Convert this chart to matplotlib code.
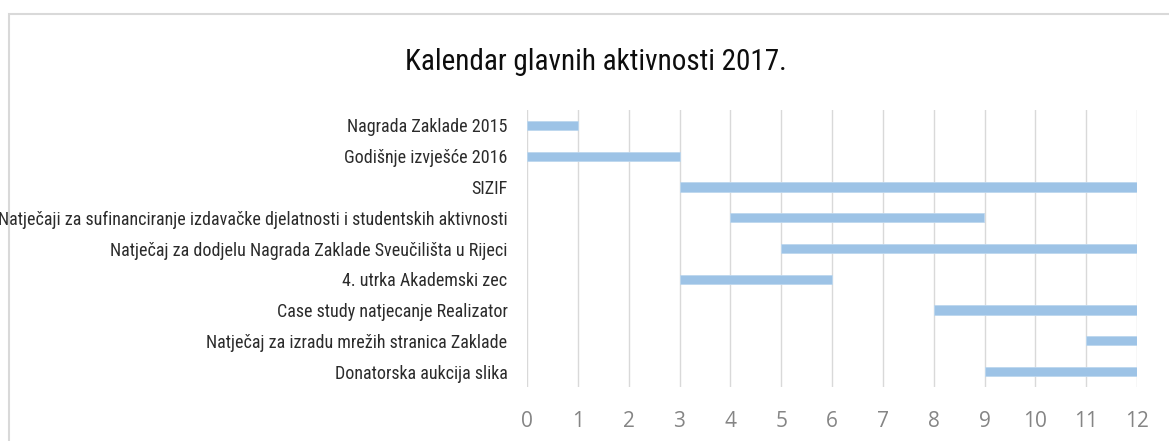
import matplotlib
matplotlib.use('Agg')
import matplotlib.pyplot as plt
from matplotlib.patches import Rectangle

# activities (top to bottom), start and end month
activities = [
    "Nagrada Zaklade 2015",
    "Godišnje izvješće 2016",
    "SIZIF",
    "Natječaji za sufinanciranje izdavačke djelatnosti i studentskih aktivnosti",
    "Natječaj za dodjelu Nagrada Zaklade Sveučilišta u Rijeci",
    "4. utrka Akademski zec",
    "Case study natjecanje Realizator",
    "Natječaj za izradu mrežih stranica Zaklade",
    "Donatorska aukcija slika",
]
start = [0, 0, 3, 4, 5, 3, 8, 11, 9]
end = [1, 3, 12, 9, 12, 6, 12, 12, 12]
months = list(range(0, 13))

narrow = ['Roboto Condensed', 'DejaVu Sans']

fig = plt.figure(figsize=(11.69, 4.41), dpi=100)
W, H = 1169, 441
ax = fig.add_axes([527 / W, 1 - 387 / H, (1137 - 527) / W, (387 - 110) / H])

durations = [e - s for s, e in zip(start, end)]
ax.barh(range(len(activities)), durations, left=start, height=0.3,
        color='#9DC3E6', edgecolor='#BDD7EE', linewidth=0.6, zorder=3)

ax.set_xlim(0, 12)
ax.set_ylim(len(activities) - 0.5, -0.5)
ax.set_xticks(months)
ax.set_xticklabels([str(m) for m in months], family=['Open Sans', 'DejaVu Sans'],
                   fontsize=15, color='#858585')
ax.set_yticks(range(len(activities)))
ax.set_yticklabels(activities, family=narrow, stretch='condensed',
                   fontsize=13, color='#2B2B2B')
ax.tick_params(axis='both', length=0)
ax.tick_params(axis='x', pad=17)
ax.tick_params(axis='y', pad=14)
ax.grid(axis='x', color='#D9D9D9', linewidth=1, zorder=0)
for s in ax.spines.values():
    s.set_visible(False)

fig.text(596 / W, 1 - 62 / H, "Kalendar glavnih aktivnosti 2017.", family=narrow,
         stretch='condensed', fontsize=21, color='#0D0D0D', ha='center', va='center')

# outer chart border
fig.patches.append(Rectangle((9 / W, -0.1), 1.2, 1.1 - 14 / H, transform=fig.transFigure,
                             fill=False, edgecolor='#D9D9D9', linewidth=1.5))

fig.savefig('out.png', dpi=100)
